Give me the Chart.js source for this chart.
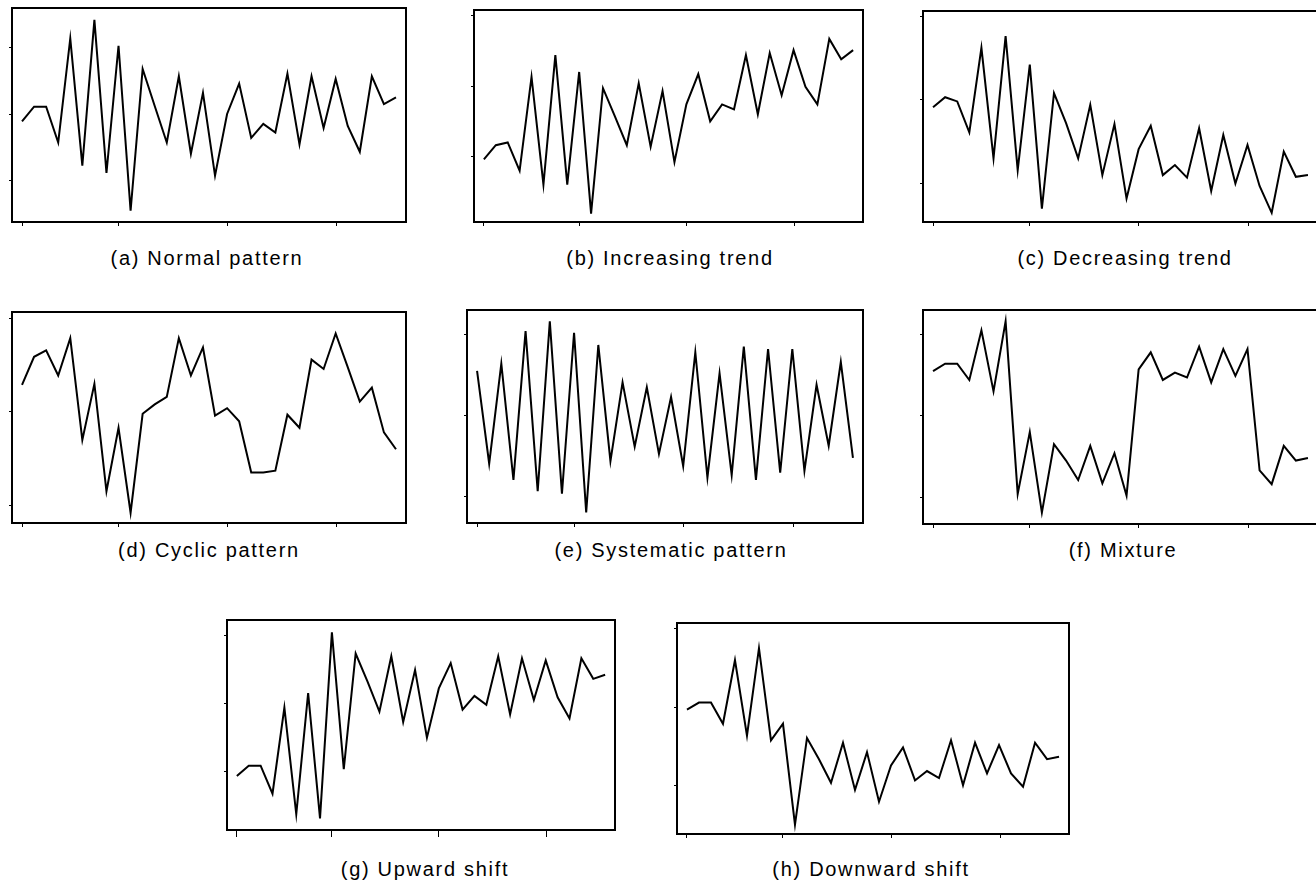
<!DOCTYPE html>
<html><head><meta charset="utf-8">
<script src="https://cdn.jsdelivr.net/npm/chart.js@4.4.1/dist/chart.umd.min.js"></script>
<style>
html,body{margin:0;padding:0;background:#fff;overflow:hidden;width:1316px;height:884px;}
.panel{position:absolute;}
.cap{position:absolute;font-family:"Liberation Sans",Arial,sans-serif;font-size:20px;line-height:20px;letter-spacing:1.7px;white-space:nowrap;color:#000;transform:translateX(-50%);}
</style></head><body>
<script>
// ---- data ----
const pointIndex = Array.from({length:32},(_, i)=>i+1);
const xTickValues = [1, 9, 18, 27.1];
const yTickValues = [-1, 0, 1];

const captions = ["(a) Normal pattern","(b) Increasing trend","(c) Decreasing trend","(d) Cyclic pattern","(e) Systematic pattern","(f) Mixture","(g) Upward shift","(h) Downward shift"];

const normalPattern = [-0.11,0.11,0.11,-0.43,1.14,-0.78,1.42,-0.89,1.03,-1.46,0.68,0.12,-0.43,0.57,-0.60,0.32,-0.93,0,0.46,-0.36,-0.15,-0.28,0.61,-0.46,0.57,-0.21,0.53,-0.18,-0.57,0.57,0.15,0.25];
const increasingTrend = [-1.04,-0.84,-0.80,-1.20,0.13,-1.40,0.44,-1.40,0.20,-1.81,-0.03,-0.43,-0.84,0.04,-0.86,-0.07,-1.08,-0.26,0.17,-0.50,-0.26,-0.33,0.44,-0.40,0.47,-0.13,0.51,-0.01,-0.26,0.67,0.38,0.51];
const decreasingTrend = [-0.09,0.03,-0.02,-0.39,0.62,-0.70,0.76,-0.84,0.42,-1.30,0.08,-0.28,-0.70,-0.06,-0.90,-0.29,-1.18,-0.59,-0.31,-0.90,-0.78,-0.93,-0.34,-1.09,-0.42,-1.00,-0.54,-1.03,-1.35,-0.62,-0.92,-0.90];
const cyclicPattern = [0.29,0.59,0.66,0.39,0.79,-0.30,0.30,-0.85,-0.17,-1.08,-0.02,0.08,0.16,0.79,0.39,0.69,-0.04,0.04,-0.10,-0.65,-0.65,-0.63,-0.03,-0.17,0.56,0.46,0.84,0.48,0.11,0.26,-0.22,-0.40];
const systematicPattern = [0.55,-0.59,0.64,-0.79,1.04,-0.93,1.16,-0.96,1.02,-1.19,0.87,-0.56,0.41,-0.38,0.35,-0.47,0.23,-0.62,0.78,-0.76,0.52,-0.73,0.85,-0.79,0.82,-0.70,0.82,-0.68,0.38,-0.37,0.66,-0.52];
const mixture = [0.55,0.64,0.64,0.44,1.05,0.30,1.16,-0.96,-0.20,-1.19,-0.35,-0.55,-0.79,-0.37,-0.83,-0.46,-0.98,0.57,0.78,0.44,0.53,0.47,0.85,0.41,0.82,0.49,0.82,-0.67,-0.84,-0.37,-0.55,-0.52];
const upwardShift = [-1.06,-0.91,-0.91,-1.32,-0.06,-1.62,0.15,-1.68,1.04,-0.96,0.73,0.32,-0.12,0.69,-0.27,0.49,-0.50,0.22,0.59,-0.09,0.11,-0.02,0.69,-0.16,0.66,0.05,0.63,0.09,-0.22,0.66,0.36,0.42];
const downwardShift = [-0.03,0.06,0.06,-0.21,0.60,-0.36,0.75,-0.42,-0.21,-1.49,-0.39,-0.66,-0.96,-0.45,-1.05,-0.57,-1.20,-0.74,-0.51,-0.93,-0.81,-0.90,-0.42,-0.99,-0.45,-0.84,-0.48,-0.84,-1.01,-0.45,-0.66,-0.63];

const seriesList = [normalPattern, increasingTrend, decreasingTrend, cyclicPattern, systematicPattern, mixture, upwardShift, downwardShift];

// ---- layout (positions / axis ranges) ----
const X_MIN = 0.17, X_MAX = 32.83;
const layoutList = [
  {box:{l:12,t:8,r:406,b:222},   yMin:-1.63, yMax:1.60, xTick:4, capX:207, capY:248},
  {box:{l:474,t:10,r:863,b:222}, yMin:-1.93, yMax:1.08, xTick:4, capX:670, capY:248},
  {box:{l:923,t:11,r:1318,b:222},yMin:-1.46, yMax:1.06, xTick:4, capX:1125, capY:248},
  {box:{l:12,t:312,r:406,b:523}, yMin:-1.19, yMax:1.07, xTick:4, capX:209, capY:540},
  {box:{l:467,t:310,r:863,b:523},yMin:-1.32, yMax:1.30, xTick:4, capX:671, capY:540},
  {box:{l:923,t:310,r:1318,b:524},yMin:-1.33, yMax:1.30, xTick:4, capX:1123, capY:540},
  {box:{l:227,t:620,r:615,b:830},yMin:-1.85, yMax:1.22, xTick:7, capX:425, capY:859},
  {box:{l:677,t:623,r:1069,b:834},yMin:-1.61, yMax:1.07, xTick:4, capX:871, capY:859}
];

function makePanel(values, lay, caption){
  const M = 12, tlY = 3, tlX = lay.xTick;
  const W = lay.box.r - lay.box.l + 2*M, H = lay.box.b - lay.box.t + 2*M;
  const wrap = document.createElement('div');
  wrap.className = 'panel';
  wrap.style.left = (lay.box.l - M) + 'px';
  wrap.style.top = (lay.box.t - M) + 'px';
  wrap.style.width = W + 'px'; wrap.style.height = H + 'px';
  const cv = document.createElement('canvas');
  cv.width = W; cv.height = H; cv.style.width = W + 'px'; cv.style.height = H + 'px';
  wrap.appendChild(cv);
  document.body.appendChild(wrap);

  const tickGrid = (len) => ({display:true, drawOnChartArea:false, drawTicks:true, tickLength:len, color:'#000', lineWidth:1});
  const frame = {display:true, color:'#000', width:2};

  new Chart(cv, {
    type:'line',
    data:{datasets:[{
      data: values.map((v,i)=>({x:pointIndex[i], y:v})),
      borderColor:'#000', borderWidth:2, pointRadius:0, tension:0, fill:false,
      borderJoinStyle:'miter'
    }]},
    options:{
      responsive:false, animation:false, devicePixelRatio:1,
      layout:{padding:{left:M - tlY, top:M, right:M, bottom:M - tlX}},
      plugins:{legend:{display:false}, tooltip:{enabled:false}, title:{display:false}},
      scales:{
        x:{type:'linear', position:'bottom', min:X_MIN, max:X_MAX,
           afterBuildTicks:(s)=>{ s.ticks = xTickValues.map(v=>({value:v})); },
           ticks:{display:false}, grid:tickGrid(tlX), border:frame},
        y:{type:'linear', position:'left', min:lay.yMin, max:lay.yMax,
           afterBuildTicks:(s)=>{ s.ticks = yTickValues.map(v=>({value:v})); },
           ticks:{display:false}, grid:tickGrid(tlY), border:frame},
        xTop:{type:'linear', position:'top', min:0, max:1,
           ticks:{display:false}, grid:{display:false, drawTicks:false}, border:frame},
        yRight:{type:'linear', position:'right', min:0, max:1,
           ticks:{display:false}, grid:{display:false, drawTicks:false}, border:frame}
      }
    }
  });

  const cap = document.createElement('div');
  cap.className = 'cap';
  cap.textContent = caption;
  cap.style.left = lay.capX + 'px';
  cap.style.top = lay.capY + 'px';
  document.body.appendChild(cap);
}

seriesList.forEach((vals, i) => makePanel(vals, layoutList[i], captions[i]));
</script>
</body></html>
